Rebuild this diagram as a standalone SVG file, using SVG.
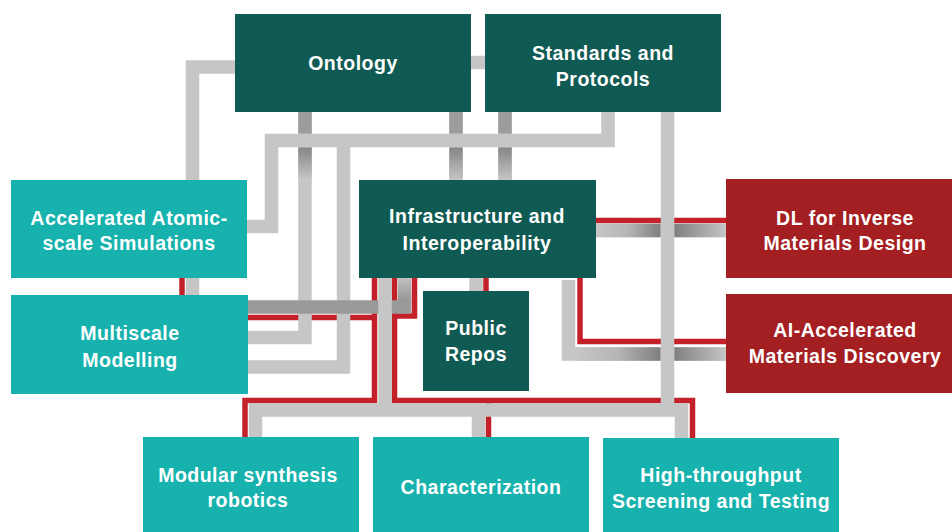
<svg xmlns="http://www.w3.org/2000/svg" width="952" height="532" viewBox="0 0 952 532">
<style>
.dk{fill:#0f5a53}
.tl{fill:#17b2ad}
.rd{fill:#a41f22}
.t{font-family:"Liberation Sans",Arial,sans-serif;font-weight:bold;font-size:19.5px;fill:#fff;text-anchor:middle;letter-spacing:0.5px}
.r{fill:none;stroke:#c3202a;stroke-width:5.5}
.g{fill:none;stroke:#c6c6c6;stroke-width:13.5}
.gd{fill:none;stroke:#9a9a9a;stroke-width:13.5}
</style>
<defs>
<linearGradient id="gDown" x1="0" y1="0" x2="0" y2="1"><stop offset="0" stop-color="#858585"/><stop offset="1" stop-color="#c6c6c6"/></linearGradient>
<linearGradient id="gUp" x1="0" y1="0" x2="0" y2="1"><stop offset="0" stop-color="#c0c0c0"/><stop offset="1" stop-color="#8a8a8a"/></linearGradient>
<linearGradient id="gRight" x1="0" y1="0" x2="1" y2="0"><stop offset="0" stop-color="#c6c6c6"/><stop offset="0.5" stop-color="#b5b5b5"/><stop offset="1" stop-color="#7f7f7f"/></linearGradient>
<linearGradient id="gLeft" x1="0" y1="0" x2="1" y2="0"><stop offset="0" stop-color="#7f7f7f"/><stop offset="1" stop-color="#c6c6c6"/></linearGradient>
</defs>
<rect width="952" height="532" fill="#fff"/>
<g id="connectors">
<path class="r" d="M374.5,278 V400.5 H245 V437"/>
<path class="r" d="M374.5,317.5 H248"/>
<path class="r" d="M394.5,278 V400.5 H692.5 V438"/>
<path class="r" d="M488.5,400.5 V437"/>
<path class="r" d="M414.5,278 V316 H394.5"/>
<path class="r" d="M486,278 V291"/>
<path class="r" d="M596,220.5 H726"/>
<path class="r" d="M580,278 V341.5 H726"/>
<path class="r" d="M182,278 V295"/>
<path class="g" d="M471,62.5 H485"/>
<path class="g" d="M235,67 H192.5 V295"/>
<path class="g" d="M305,112 V337.5 H248"/>
<path class="g" d="M456,112 V180"/>
<path class="g" d="M505,112 V180"/>
<path class="g" d="M608,112 V140.5 H271.5 V226.5 H247"/>
<path class="g" d="M343.5,140.5 V367 H248"/>
<path class="g" d="M255.5,437 V410 H681.5 V438"/>
<path class="g" d="M478.5,410 V437"/>
<path class="g" d="M476,278 V291"/>
<path class="g" d="M596,230.5 H726"/>
<path class="g" d="M568.5,280 V354 H726"/>
<rect x="298.25" y="112" width="13.5" height="21.5" fill="#9c9c9c"/>
<rect x="298.25" y="147.5" width="13.5" height="32" fill="url(#gDown)"/>
<rect x="449.25" y="112" width="13.5" height="21.5" fill="#9c9c9c"/>
<rect x="449.25" y="147.5" width="13.5" height="32.5" fill="url(#gDown)"/>
<rect x="498.25" y="112" width="13.5" height="21.5" fill="#9c9c9c"/>
<rect x="498.25" y="147.5" width="13.5" height="32.5" fill="url(#gDown)"/>
<rect x="596" y="223.75" width="64.5" height="13.5" fill="url(#gRight)"/>
<rect x="674.25" y="223.75" width="51.75" height="13.5" fill="url(#gLeft)"/>
<rect x="575.25" y="347.25" width="85.25" height="13.5" fill="url(#gRight)"/>
<rect x="674.25" y="347.25" width="51.75" height="13.5" fill="url(#gLeft)"/>
<rect x="397.75" y="278" width="13.5" height="29" fill="url(#gUp)"/>
<path class="gd" d="M411.25,307 H248"/>
<path class="g" d="M385,278 V410"/>
<path class="g" d="M667.5,112 V410"/>
</g>
<g id="ontology"><rect class="dk" x="235" y="14" width="236" height="98"/><text class="t" x="353" y="70">Ontology</text></g>
<g id="standards"><rect class="dk" x="485" y="14" width="236" height="98"/><text class="t" x="603" y="60">Standards and</text><text class="t" x="603" y="86">Protocols</text></g>
<g id="atomic"><rect class="tl" x="11" y="180" width="236" height="98"/><text class="t" x="129" y="225">Accelerated Atomic-</text><text class="t" x="129" y="250">scale Simulations</text></g>
<g id="infra"><rect class="dk" x="359" y="180" width="237" height="98"/><text class="t" x="477" y="223">Infrastructure and</text><text class="t" x="477" y="250">Interoperability</text></g>
<g id="dl"><rect class="rd" x="726" y="179" width="226" height="99"/><text class="t" x="845" y="225">DL for Inverse</text><text class="t" x="845" y="250">Materials Design</text></g>
<g id="multiscale"><rect class="tl" x="11" y="295" width="237" height="99"/><text class="t" x="130" y="340">Multiscale</text><text class="t" x="130" y="367">Modelling</text></g>
<g id="repos"><rect class="dk" x="423" y="291" width="106" height="100"/><text class="t" x="476" y="335">Public</text><text class="t" x="476" y="361">Repos</text></g>
<g id="ai"><rect class="rd" x="726" y="294" width="226" height="99"/><text class="t" x="845" y="337">AI-Accelerated</text><text class="t" x="845" y="363">Materials Discovery</text></g>
<g id="modular"><rect class="tl" x="143" y="437" width="216" height="95"/><text class="t" x="248" y="482">Modular synthesis</text><text class="t" x="248" y="507">robotics</text></g>
<g id="characterization"><rect class="tl" x="373" y="437" width="216" height="95"/><text class="t" x="481" y="494">Characterization</text></g>
<g id="htp"><rect class="tl" x="603" y="438" width="236" height="94"/><text class="t" x="721" y="482">High-throughput</text><text class="t" x="721" y="508">Screening and Testing</text></g>
</svg>
